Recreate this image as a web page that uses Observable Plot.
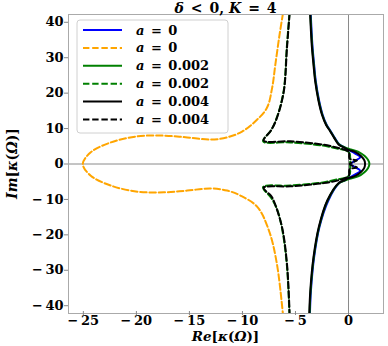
<!DOCTYPE html>
<html><head>
<meta charset="utf-8">
<script src="https://cdn.jsdelivr.net/npm/d3@7"></script>
<script src="https://cdn.jsdelivr.net/npm/@observablehq/plot@0.6"></script>
<style>body{margin:0;background:#fff}</style>
</head><body><div id="chart"></div>
<script>
const xTicks = [-25, -20, -15, -10, -5, 0];
const yTicks = [-40, -30, -20, -10, 0, 10, 20, 30, 40];
const legendValues = ["0", "0", "0.002", "0.002", "0.004", "0.004"];
const colors = ["#0000ff", "#ffa500", "#008000", "#008000", "#000000", "#000000"];
const dashed = [false, true, false, true, false, true];

// a = 0, solid (blue)
const blueX = [-3.56, -3.49, -3.39, -3.24, -3.08, -2.78, -2.44, -2.05, -1.66, -1.28, -0.88, -0.34, 0.05, 0.6, 1.1, 0.6, 0.2,
               0.6, 1.1, 0.6, 0.05, -0.34, -0.88, -1.9, -2.74, -3.24, -3.54, -3.64];
const blueY = [42.5, 38, 33, 28, 23.3, 18, 13.9, 11, 9.2, 7.3, 5.6, 4.6, 3.9, 3.0, 1.9, 0.9, 0,
               -0.9, -1.9, -3.0, -3.9, -4.6, -5.4, -10.3, -17.8, -26.3, -35.7, -42.5];
// a = 0, dashed (orange)
const orangeX = [-6.18, -6.5, -6.9, -7.2, -7.7, -8.8, -10.0, -11.45, -13.0, -15.2, -17.4, -19.9, -22.4, -24.3, -25.05,
                 -24.3, -22.4, -19.9, -17.4, -15.2, -13.0, -11.45, -10.2, -8.6, -7.5, -6.75, -6.18];
const orangeY = [42.5, 36.5, 28.0, 21.5, 15.8, 12.0, 9.2, 7.5, 6.9, 7.5, 8.0, 7.8, 6.1, 3.3, 0,
                 -3.3, -6.1, -7.8, -8.0, -7.5, -6.9, -7.5, -8.9, -12.1, -18.8, -28.2, -42.5];
// a = 0.002, solid (green)
const greenX = [-3.6, -3.52, -3.42, -3.27, -3.11, -2.81, -2.47, -2.08, -1.69, -1.31, -0.9, -0.35, 0.1, 0.9, 1.5, 1.85, 1.97,
                1.85, 1.5, 0.9, 0.1, -0.35, -0.9, -1.97, -2.77, -3.27, -3.57, -3.67];
const greenY = [42.5, 38, 33, 28, 23.3, 18, 13.9, 11, 9.2, 7.3, 5.6, 4.7, 4.2, 3.5, 2.3, 1.1, 0,
                -1.1, -2.3, -3.5, -4.2, -4.7, -5.4, -10.3, -17.8, -26.3, -35.7, -42.5];
// a = 0.002, dashed (green)
const greenDX = [-5.57, -5.82, -6.12, -6.77, -7.3, -8.05, -5.5, -2.4, -1.0, -0.2, 0.1, 0.15,
                 0.1, -0.2, -1.0, -2.4, -5.5, -8.05, -7.3, -6.77, -6.29, -5.82, -5.57];
const greenDY = [42.5, 32.8, 20.5, 13.0, 9.5, 6.4, 6.1, 5.2, 4.3, 3.8, 3.0, 0,
                 -3.0, -3.8, -4.3, -5.2, -6.1, -6.5, -9.5, -12.5, -17.8, -28.2, -42.5];
// a = 0.004, solid (black)
const blackX = [-3.62, -3.55, -3.45, -3.3, -3.14, -2.84, -2.5, -2.11, -1.72, -1.34, -0.94, -0.4, 0.0, 0.7, 1.2, 1.5, 1.56,
                1.5, 1.2, 0.7, 0.0, -0.4, -0.94, -2.0, -2.8, -3.3, -3.6, -3.7];
const blackY = [42.5, 38, 33, 28, 23.3, 18, 13.9, 11, 9.2, 7.3, 5.5, 4.6, 4.0, 3.3, 2.2, 1.0, 0,
                -1.0, -2.2, -3.3, -4.0, -4.6, -5.4, -10.3, -17.8, -26.3, -35.7, -42.5];
// a = 0.004, dashed (black)
const blackDX = [-5.55, -5.8, -6.1, -6.75, -7.3, -8.0, -5.5, -2.35, -0.94, -0.15, 0.05, 0.1, 0.8, 0.3, 0.1,
                 0.3, 0.8, 0.1, 0.05, -0.15, -0.94, -2.35, -5.5, -8.0, -7.3, -7.06, -6.27, -5.8, -5.55];
const blackDY = [42.5, 32.8, 20.5, 13.0, 9.5, 6.6, 6.4, 5.45, 4.5, 3.75, 3.2, 1.5, 1.0, 0.4, 0,
                 -0.4, -1.0, -1.5, -3.2, -3.75, -4.6, -5.4, -6.3, -6.7, -9.0, -10.3, -17.8, -28.2, -42.5];

const seriesX = [blueX, orangeX, greenX, greenDX, blackX, blackDX];
const seriesY = [blueY, orangeY, greenY, greenDY, blackY, blackDY];

const dash = "6.4,2.8";
const lineMarks = seriesX.map((xs, i) =>
  Plot.line(d3.zip(xs, seriesY[i]), {
    x: d => d[0], y: d => d[1],
    stroke: colors[i], strokeWidth: 2,
    strokeDasharray: dashed[i] ? dash : null,
    curve: "catmull-rom", clip: true
  })
);

const fmt = d => d < 0 ? "\u2212\u2009" + Math.abs(d) : String(d);

const chart = Plot.plot({
  width: 388, height: 346,
  marginLeft: 68, marginRight: 5, marginTop: 14, marginBottom: 33,
  style: {fontFamily: "DejaVu Serif", fontWeight: "bold", fontSize: "13px", color: "black", background: "white"},
  x: {domain: [-26.4, 3.3]},
  y: {domain: [-42.2, 42.2]},
  marks: [
    Plot.ruleX([0], {stroke: "#8a8a8a", strokeWidth: 1}),
    Plot.ruleY([0], {stroke: "#8a8a8a", strokeWidth: 1}),
    ...lineMarks,
    Plot.frame({stroke: "#aaaaaa", strokeWidth: 1}),
    Plot.axisX({ticks: xTicks, tickFormat: fmt, tickSize: 4, tickPadding: 0, dy: -2, stroke: "#888", label: null}),
    Plot.axisY({ticks: yTicks, tickFormat: fmt, tickSize: 4, tickPadding: 1, stroke: "#888", label: null})
  ]
});
document.getElementById("chart").appendChild(chart);

const svg = d3.select(chart);
const serif = "DejaVu Serif";
function richText(g, parts) {
  parts.forEach(([t, it]) => g.append("tspan").attr("font-style", it ? "italic" : "normal").text(t));
}
// title
const title = svg.append("text").attr("x", 225.5).attr("y", 12.5).attr("text-anchor", "middle")
  .attr("font-family", serif).attr("font-size", 14).attr("font-weight", "bold");
richText(title, [["δ", true], ["\u2002<\u20020, ", false], ["K", true], ["\u2002=\u20024", false]]);
// x label
const xl = svg.append("text").attr("x", 225.5).attr("y", 340.5).attr("text-anchor", "middle")
  .attr("font-family", serif).attr("font-size", 13.5).attr("font-weight", "bold");
richText(xl, [["Re", true], ["[", false], ["κ", true], ["(", false], ["Ω", true], [")]", false]]);
// y label
const yl = svg.append("text").attr("transform", "translate(17,163.5) rotate(-90)").attr("text-anchor", "middle")
  .attr("font-family", serif).attr("font-size", 14).attr("font-weight", "bold");
richText(yl, [["Im", true], ["[", false], ["κ", true], ["(", false], ["Ω", true], [")]", false]]);

// legend
const lg = svg.append("g");
lg.append("rect").attr("x", 77).attr("y", 20).attr("width", 151).attr("height", 113).attr("rx", 3)
  .attr("fill", "white").attr("fill-opacity", 0.8).attr("stroke", "#d0d0d0");
legendValues.forEach((v, i) => {
  const y = 30 + i * 17.9;
  lg.append("line").attr("x1", 83).attr("x2", 122).attr("y1", y).attr("y2", y)
    .attr("stroke", colors[i]).attr("stroke-width", 2)
    .attr("stroke-dasharray", dashed[i] ? dash : null);
  const t = lg.append("text").attr("x", 136).attr("y", y).attr("dy", "0.35em").attr("text-anchor", "start")
    .attr("font-family", serif).attr("font-size", 13).attr("font-weight", "bold");
  richText(t, [["a", true], ["\u2002=\u2002" + v, false]]);
});
</script>
</body></html>
